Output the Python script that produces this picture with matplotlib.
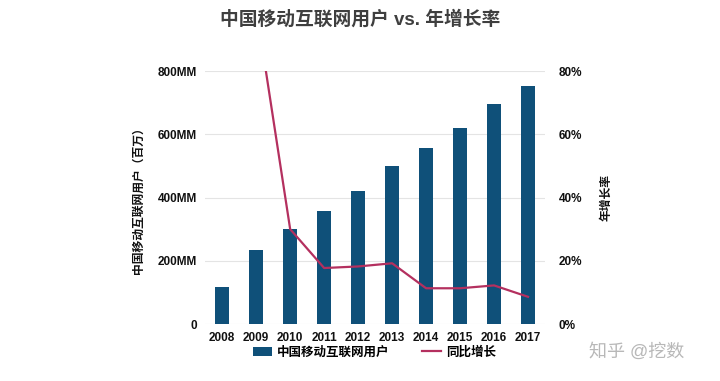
import numpy as np
import matplotlib.pyplot as plt
from matplotlib.ticker import FuncFormatter

plt.rcParams['font.family'] = ['Liberation Sans', 'Noto Sans CJK SC', 'DejaVu Sans']

years = ['2008', '2009', '2010', '2011', '2012', '2013', '2014', '2015', '2016', '2017']
users = [117, 234, 302, 356, 420, 500, 557, 620, 695, 753]
growth = [None, 100.0, 30.0, 17.7, 18.2, 19.2, 11.3, 11.3, 12.2, 8.6]

bar_color = '#0f5079'
line_color = '#b4305f'
text_color = '#111111'

fig = plt.figure(figsize=(7.2, 3.81), dpi=100)
ax = fig.add_axes([0.285, 0.1496, 0.472, 0.664])
x = np.arange(len(years))

b = ax.bar(x, users, width=0.4, color=bar_color, label='中国移动互联网用户', zorder=3)
ax.set_xlim(-0.5, 9.5)
ax.set_ylim(0, 800)
ax.set_yticks([0, 200, 400, 600, 800])
ax.yaxis.set_major_formatter(FuncFormatter(lambda v, p: '0' if v == 0 else f'{int(v)}MM'))
ax.set_xticks(x)
ax.set_xticklabels(years)
ax.grid(axis='y', color='#e4e4e4', linewidth=0.8, zorder=0)
for s in ax.spines.values():
    s.set_visible(False)
ax.tick_params(length=0, labelsize=8.5, colors=text_color, pad=6)
for lab in ax.get_xticklabels() + ax.get_yticklabels():
    lab.set_fontweight('bold')
ax.set_ylabel('中国移动互联网用户（百万）', fontsize=8.5, fontweight='bold', color=text_color, labelpad=9)

ax2 = ax.twinx()
gx = [i for i, g in enumerate(growth) if g is not None]
gy = [g for g in growth if g is not None]
l, = ax2.plot(gx, gy, color=line_color, linewidth=1.6, label='同比增长', zorder=4)
ax2.set_ylim(0, 80)
ax2.set_yticks([0, 20, 40, 60, 80])
ax2.yaxis.set_major_formatter(FuncFormatter(lambda v, p: f'{int(v)}%'))
for s in ax2.spines.values():
    s.set_visible(False)
ax2.tick_params(length=0, labelsize=8.5, colors=text_color, pad=10)
for lab in ax2.get_yticklabels():
    lab.set_fontweight('bold')
ax2.set_ylabel('年增长率', fontsize=8.5, fontweight='bold', color=text_color, rotation=90, labelpad=13)

fig.legend([b, l], ['中国移动互联网用户', '同比增长'], loc='center', bbox_to_anchor=(0.52, 0.075),
           ncol=2, frameon=False, handlelength=1.5, handletextpad=0.4, columnspacing=2.6,
           prop={'weight': 'bold', 'size': 9})

fig.suptitle('中国移动互联网用户 vs. 年增长率', x=0.5, y=0.975, fontsize=13.5, fontweight='bold', color='#3f3f3f')
fig.text(0.818, 0.077, '知乎 @挖数', fontsize=13, color='#b8b8b8', va='center')

fig.savefig('out.png', dpi=100)
